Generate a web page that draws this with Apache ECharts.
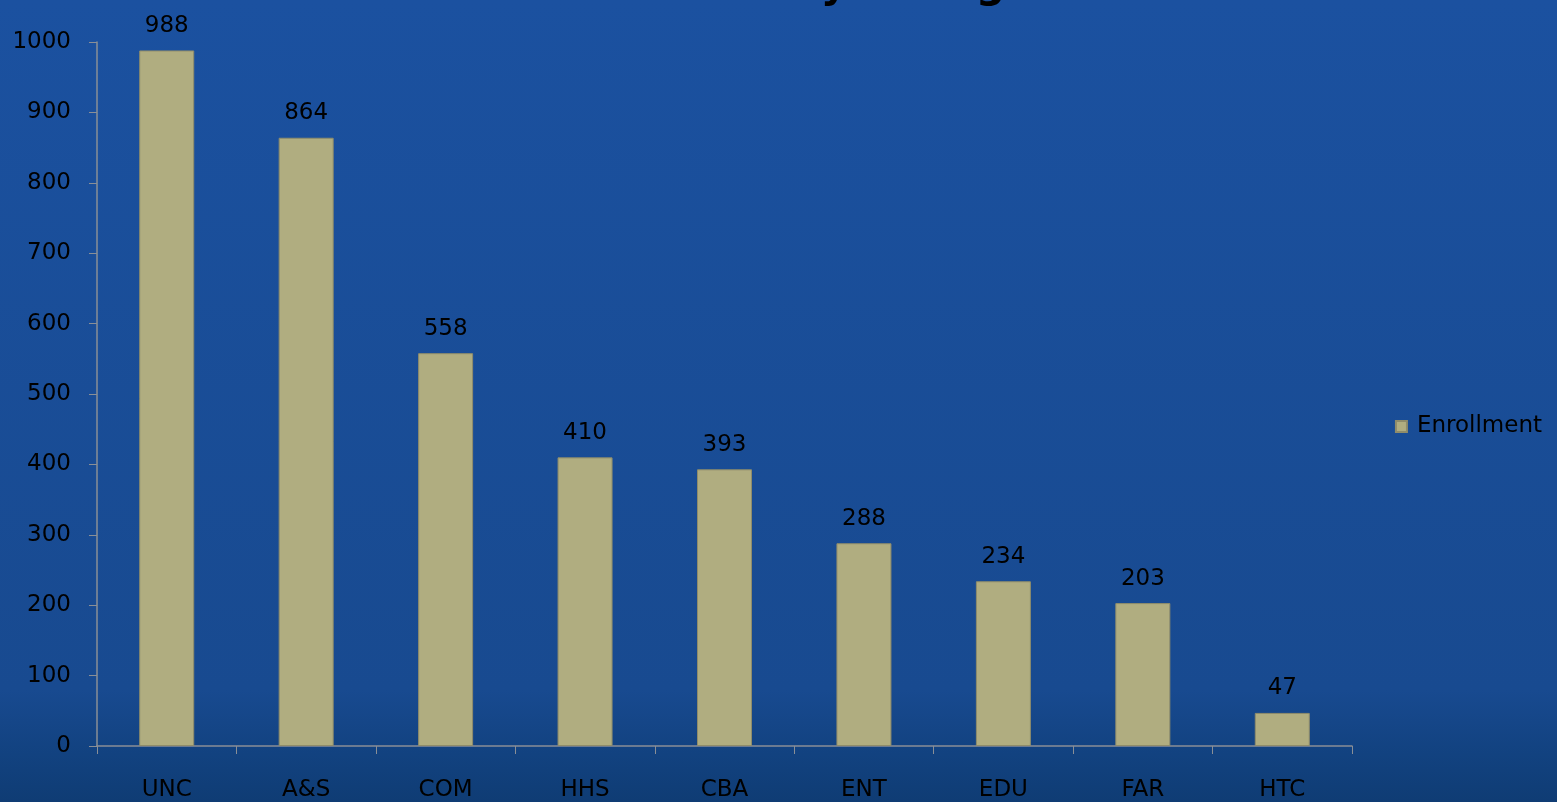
<!DOCTYPE html>
<html>
<head>
<meta charset="utf-8">
<script src="https://cdn.jsdelivr.net/npm/echarts@6/dist/echarts.min.js"></script>
<style>
  html, body { margin: 0; padding: 0; width: 100%; height: 100%; }
  #chart { width: 1557px; height: 802px; }
</style>
</head>
<body>
<div id="chart"></div>
<script>
// Enrollment by college
const colleges = ['UNC', 'A&S', 'COM', 'HHS', 'CBA', 'ENT', 'EDU', 'FAR', 'HTC'];
const enrollment = [988, 864, 558, 410, 393, 288, 234, 203, 47];
const seriesName = 'Enrollment';
const titleText = 'Enrollment by College';

const font = '"DejaVu Sans", Verdana, sans-serif';
const chart = echarts.init(document.getElementById('chart'));

chart.setOption({
  backgroundColor: {
    type: 'linear', x: 0, y: 0, x2: 0, y2: 1,
    colorStops: [
      { offset: 0, color: '#1b51a0' },
      { offset: 0.86, color: '#184a90' },
      { offset: 0.94, color: '#124280' },
      { offset: 1, color: '#0f3c74' }
    ]
  },
  animation: false,
  // title sits mostly above the top edge of the canvas
  title: {
    text: titleText,
    left: 'center',
    top: -39,
    textStyle: { fontFamily: font, fontSize: 41, fontWeight: 'bold', color: '#000' }
  },
  legend: {
    data: [seriesName],
    right: 10,
    top: 410,
    itemWidth: 11,
    itemHeight: 11,
    icon: 'rect',
    textStyle: { fontFamily: font, fontSize: 23, color: '#000', padding: [0, 0, 0, 5] }
  },
  grid: { left: 97, right: 205, top: 42, bottom: 55, containLabel: false },
  xAxis: {
    type: 'category',
    data: colleges,
    axisLine: { lineStyle: { color: '#8a8f96', width: 1.5 } },
    axisTick: { show: true, length: 8, alignWithLabel: false, lineStyle: { color: '#8a8f96' } },
    axisLabel: { fontFamily: font, fontSize: 23, color: '#000', margin: 33 }
  },
  yAxis: {
    type: 'value',
    min: 0, max: 1000, interval: 100,
    splitLine: { show: false },
    axisLine: { show: true, lineStyle: { color: '#8a8f96', width: 1.5 } },
    axisTick: { show: true, length: 8, lineStyle: { color: '#8a8f96' } },
    axisLabel: {
      fontFamily: font, fontSize: 23, color: '#000', margin: 26,
      formatter: v => String(v)
    }
  },
  series: [{
    name: seriesName,
    type: 'bar',
    data: enrollment,
    barWidth: 55,
    itemStyle: { color: '#b0ad80', borderColor: '#8f8c6a', borderWidth: 1 },
    label: {
      show: true, position: 'top', distance: 13,
      fontFamily: font, fontSize: 23, color: '#000'
    }
  }]
});
</script>
</body>
</html>
